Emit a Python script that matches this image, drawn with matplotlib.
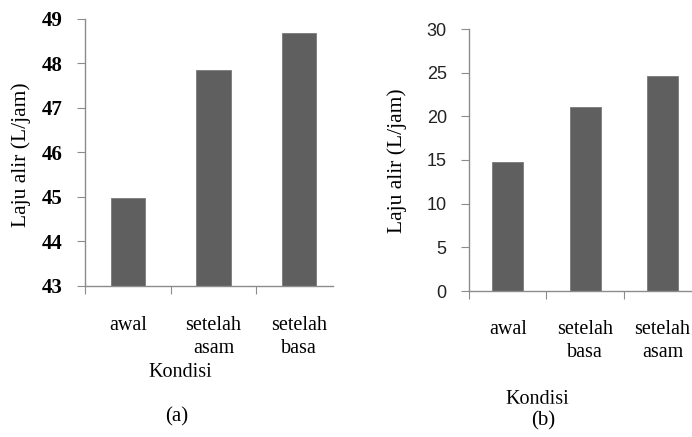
import matplotlib.pyplot as plt
from matplotlib.patches import Rectangle

# data for both panels
kondisi_a = ["awal", "setelah\nasam", "setelah\nbasa"]
laju_a = [44.98, 47.86, 48.68]

kondisi_b = ["awal", "setelah\nbasa", "setelah\nasam"]
laju_b = [14.8, 21.1, 24.6]

SERIF = "Liberation Serif"
BAR = "#5f5f5f"
AXC = "#8c8c8c"

fig = plt.figure(figsize=(6.92, 4.37), dpi=100)


def style_axes(ax, cats, vals, ylim, yticks, xmax, tickfont, xpad):
    pos = [i + 0.5 for i in range(len(vals))]
    ax.bar(pos, [v - ylim[0] for v in vals], bottom=ylim[0], width=0.40,
           color=BAR, edgecolor="#7a7a7a", linewidth=0.6)
    ax.set_xlim(0, xmax)
    ax.set_ylim(*ylim)
    for s in ["top", "right"]:
        ax.spines[s].set_visible(False)
    for s in ["left", "bottom"]:
        ax.spines[s].set_color(AXC)
        ax.spines[s].set_linewidth(1.0)
    ax.set_yticks(yticks)
    ax.set_yticklabels([str(t) for t in yticks], **tickfont)
    # boundaries as major ticks, names as minor ticks
    ax.set_xticks([0, 1, 2])
    ax.set_xticklabels([])
    ax.set_xticks(pos, minor=True)
    ax.set_xticklabels(cats, minor=True, family=SERIF, fontsize=14.5,
                       linespacing=1.3)
    ax.tick_params(axis="x", which="minor", length=0, pad=xpad)
    ax.tick_params(axis="x", which="major", length=6, color=AXC, direction="out")
    ax.tick_params(axis="y", length=6, color=AXC, direction="out", pad=10)


# panel (a): truncated axis 43-49
ax1 = fig.add_axes([85 / 692, 1 - 285.7 / 437, 248 / 692, 266.7 / 437])
style_axes(ax1, kondisi_a, laju_a, (43, 49), [43, 44, 45, 46, 47, 48, 49],
           2.894, dict(family=SERIF, fontsize=15, fontweight="bold"), 22)

# panel (b): 0-30
ax2 = fig.add_axes([469 / 692, 1 - 291 / 437, 223 / 692, 262 / 437])
style_axes(ax2, kondisi_b, laju_b, (0, 30), [0, 5, 10, 15, 20, 25, 30],
           2.88, dict(family="Liberation Sans", fontsize=13, color="#222222"), 21)

fig.text(21 / 692, 1 - 155 / 437, "Laju alir (L/jam)", rotation=90,
         family=SERIF, fontsize=15.5, ha="center", va="center")
fig.text(397 / 692, 1 - 161 / 437, "Laju alir (L/jam)", rotation=90,
         family=SERIF, fontsize=15.5, ha="center", va="center")

# axis titles, lower part hidden
for x, top, cut in [(180, 363, 377), (537, 390, 404)]:
    fig.text(x / 692, 1 - top / 437, "Kondisi", family=SERIF, fontsize=14.5,
             ha="center", va="top")
    fig.add_artist(Rectangle((x / 692 - 0.07, 1 - (cut + 3) / 437), 0.14, 3 / 437,
                             transform=fig.transFigure, color="white", zorder=5))

fig.text(177 / 692, 1 - 417 / 437, "(a)", family=SERIF, fontsize=15,
         ha="center", va="center")
fig.text(543 / 692, 1 - 421 / 437, "(b)", family=SERIF, fontsize=15,
         ha="center", va="center")

fig.savefig("out.png", dpi=100)
